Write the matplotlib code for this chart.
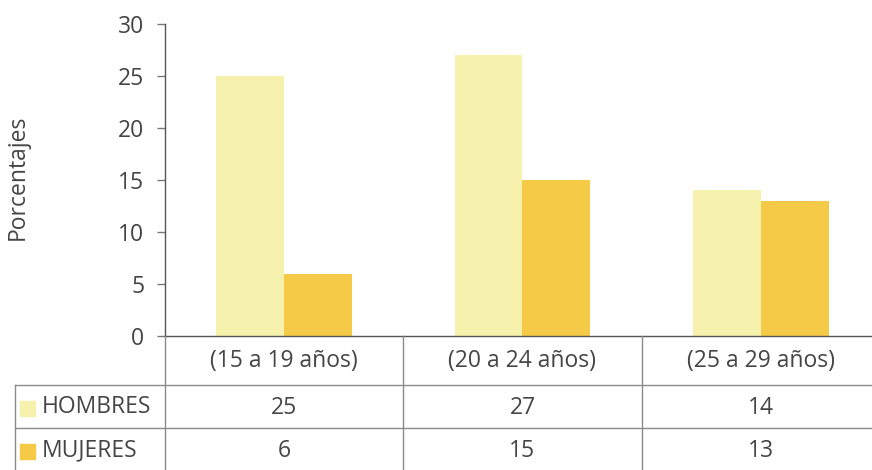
import matplotlib
matplotlib.use("Agg")
import matplotlib.pyplot as plt
from matplotlib.transforms import blended_transform_factory
from matplotlib.lines import Line2D
from matplotlib.patches import Rectangle
import numpy as np

categories = ["(15 a 19 años)", "(20 a 24 años)", "(25 a 29 años)"]
series_names = ["HOMBRES", "MUJERES"]
hombres = [25, 27, 14]
mujeres = [6, 15, 13]
yticks = [0, 5, 10, 15, 20, 25, 30]
ylabel = "Porcentajes"

colors = ["#F7F1AE", "#F4CA47"]
text_color = "#454545"
grid_color = "#8a8a8a"
fs = 16.5

plt.rcParams['font.family'] = ['Open Sans', 'DejaVu Sans']

W, H = 872, 470
fig = plt.figure(figsize=(W / 100, H / 100), dpi=100)

def fx(px):
    return px / W

def fy(py):
    return 1 - py / H

ax_left, ax_right, ax_top, ax_bottom = 165, 872, 24, 336
ax = fig.add_axes([fx(ax_left), fy(ax_bottom), fx(ax_right - ax_left), fy(ax_top) - fy(ax_bottom)])
cat_w = 238.3
ax.set_xlim(-0.5, -0.5 + (ax_right - ax_left) / cat_w)
ax.set_ylim(0, 30)

x = np.arange(len(categories))
bw = 0.285
ax.bar(x - bw / 2, hombres, width=bw, color=colors[0], zorder=1)
ax.bar(x + bw / 2, mujeres, width=bw, color=colors[1], zorder=1)

for s in ["top", "right"]:
    ax.spines[s].set_visible(False)
ax.spines["left"].set_color("#555555")
ax.spines["bottom"].set_color("#555555")
ax.spines["left"].set_linewidth(1.0)
ax.spines["bottom"].set_linewidth(1.0)
ax.set_yticks(yticks)
ax.set_yticklabels([str(v) for v in yticks])
ax.tick_params(axis="y", direction="out", length=6, width=1, color="#777777",
               labelcolor=text_color, labelsize=fs, pad=9)
ax.set_xticks([])
ax.set_ylabel(ylabel, color=text_color, fontsize=fs)
ax.yaxis.set_label_coords(-(ax_left - 18) / (ax_right - ax_left), 0.51)
ax.yaxis.label.set_horizontalalignment("center")
ax.yaxis.label.set_verticalalignment("center")

# data table drawn below the axes
lw = 1.0
def hline(py, x0, x1):
    fig.add_artist(Line2D([fx(x0), fx(x1)], [fy(py), fy(py)], transform=fig.transFigure,
                          color=grid_color, lw=lw))

def vline(px, y0, y1):
    fig.add_artist(Line2D([fx(px), fx(px)], [fy(y0), fy(y1)], transform=fig.transFigure,
                          color=grid_color, lw=lw))

hline(385, 15, 872)
hline(428, 15, 872)
vline(15, 385, 472)
for i in range(len(categories) + 1):
    px = ax_left + i * cat_w
    if px <= W:
        vline(px, 336, 472)

trans = blended_transform_factory(ax.transData, fig.transFigure)
for i, c in enumerate(categories):
    fig.text(x[i], fy(361), c, transform=trans, ha="center", va="center",
             color=text_color, fontsize=fs)
rows = [hombres, mujeres]
row_centers = [408, 451]
for r, vals in enumerate(rows):
    for i, v in enumerate(vals):
        fig.text(x[i], fy(row_centers[r]), str(v), transform=trans, ha="center", va="center",
                 color=text_color, fontsize=fs)
    fig.add_artist(Rectangle((fx(20), fy(row_centers[r] + 8)), fx(15), 15 / H,
                             transform=fig.transFigure, color=colors[r]))
    fig.text(fx(42), fy(row_centers[r] - 1), series_names[r], ha="left", va="center",
             color=text_color, fontsize=fs)

fig.savefig("out.png", dpi=100)
